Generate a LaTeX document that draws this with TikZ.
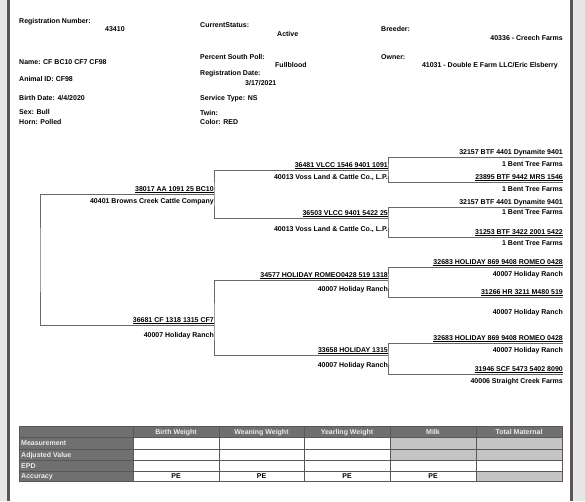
\documentclass[tikz,border=0pt]{standalone}
\usepackage{fontspec}
\setmainfont{Liberation Sans}
\usetikzlibrary{positioning}

\definecolor{pagegray}{RGB}{232,231,231}
\definecolor{rulegray}{RGB}{92,86,86}
\definecolor{linegray}{RGB}{105,105,105}
\definecolor{headgray}{RGB}{112,112,112}
\definecolor{cellgray}{RGB}{196,196,196}

\begin{document}
\begin{tikzpicture}[
    x=1pt, y=-1pt,
    txt/.style={font=\fontsize{7}{8}\selectfont\bfseries, inner sep=0pt, text height=5.2pt, text depth=0pt},
    field/.style={txt, anchor=west},
    farm/.style={txt, anchor=east},
    regname/.style={txt, anchor=south east, text depth=2.2pt, inner ysep=0.4pt},
    tree/.style={draw=linegray, line width=0.8pt},
    grid/.style={draw=rulegray, line width=1pt},
    headtxt/.style={txt, text=white!92!black},
]
    \useasboundingbox (0,0) rectangle (585,501);

    % Page with grey margins
    \fill[pagegray] (0,0) rectangle (585,501);
    \fill[white] (10,0) rectangle (570,501);
    \fill[rulegray] (7,0) rectangle (10,501);
    \fill[rulegray] (570,0) rectangle (573,501);

    % Header fields, left column
    \node[field] (regno) at (19,21) {Registration Number:};
    \node[field] (regnoval) at (105,29) {43410};
    \node[field] (name) at (19,62) {Name: CF BC10 CF7 CF98};
    \node[field] (animalid) at (19,79) {Animal ID: CF98};
    \node[field] (birth) at (19,98) {Birth Date: 4/4/2020};
    \node[field] (sex) at (19,112) {Sex: Bull};
    \node[field] (horn) at (19,122) {Horn: Polled};

    % Header fields, middle column
    \node[field] (status) at (200,25) {CurrentStatus:};
    \node[field] (statusval) at (277,34) {Active};
    \node[field] (poll) at (200,57) {Percent South Poll:};
    \node[field] (pollval) at (275,65) {Fullblood};
    \node[field] (regdate) at (200,73) {Registration Date:};
    \node[field] (regdateval) at (245,83) {3/17/2021};
    \node[field] (service) at (200,98) {Service Type: NS};
    \node[field] (twin) at (200,113) {Twin:};
    \node[field] (color) at (200,122) {Color: RED};

    % Header fields, right column
    \node[field] (breeder) at (381,29) {Breeder:};
    \node[farm] (breederval) at (563,38) {40336 - Creech Farms};
    \node[field] (owner) at (381,57) {Owner:};
    \node[farm] (ownerval) at (558,65) {41031 - Double E Farm LLC/Eric Elsberry};

    % Pedigree, parents
    \node[regname] (s) at (214,194) {\underline{38017 AA 1091 25 BC10}};
    \node[farm] (sb) at (214,201) {40401 Browns Creek Cattle Company};
    \node[regname] (d) at (214,325) {\underline{36681 CF 1318 1315 CF7}};
    \node[farm] (db) at (214,335) {40007 Holiday Ranch};

    % Pedigree, grandparents
    \node[regname] (ss) at (388,170) {\underline{36481 VLCC 1546 9401 1091}};
    \node[farm] (ssb) at (388,177) {40013 Voss Land \& Cattle Co., L.P.};
    \node[regname] (sd) at (388,218) {\underline{36503 VLCC 9401 5422 25}};
    \node[farm] (sdb) at (388,229) {40013 Voss Land \& Cattle Co., L.P.};
    \node[regname] (ds) at (388,280) {\underline{34577 HOLIDAY ROMEO0428 519 1318}};
    \node[farm] (dsb) at (388,289) {40007 Holiday Ranch};
    \node[regname] (dd) at (388,355) {\underline{33658 HOLIDAY 1315}};
    \node[farm] (ddb) at (388,365) {40007 Holiday Ranch};

    % Pedigree, great-grandparents
    \node[regname] (sss) at (563,157) {\underline{32157 BTF 4401 Dynamite 9401}};
    \node[farm] (sssb) at (563,164) {1 Bent Tree Farms};
    \node[regname] (ssd) at (563,182) {\underline{23895 BTF 9442 MRS 1546}};
    \node[farm] (ssdb) at (563,189) {1 Bent Tree Farms};
    \node[regname] (sds) at (563,207) {\underline{32157 BTF 4401 Dynamite 9401}};
    \node[farm] (sdsb) at (563,212) {1 Bent Tree Farms};
    \node[regname] (sdd) at (563,237) {\underline{31253 BTF 3422 2001 5422}};
    \node[farm] (sddb) at (563,243) {1 Bent Tree Farms};
    \node[regname] (dss) at (563,267) {\underline{32683 HOLIDAY 869 9408 ROMEO 0428}};
    \node[farm] (dssb) at (563,274) {40007 Holiday Ranch};
    \node[regname] (dsd) at (563,297) {\underline{31266 HR 3211 M480 519}};
    \node[farm] (dsdb) at (563,312) {40007 Holiday Ranch};
    \node[regname] (dds) at (563,343) {\underline{32683 HOLIDAY 869 9408 ROMEO 0428}};
    \node[farm] (ddsb) at (563,350) {40007 Holiday Ranch};
    \node[regname] (ddd) at (563,374) {\underline{31946 SCF 5473 5402 8090}};
    \node[farm] (dddb) at (563,381) {40006 Straight Creek Farms};

    % Brackets
    \coordinate (root) at (40,260);
    \draw[tree] (s.south east) -| (root) |- (d.south east);
    \draw[tree] (ss.south east) -| (s.south east) |- (sd.south east);
    \draw[tree] (ds.south east) -| (d.south east) |- (dd.south east);
    \draw[tree] (sss.south east) -| (ss.south east) |- (ssd.south east);
    \draw[tree] (sds.south east) -| (sd.south east) |- (sdd.south east);
    \draw[tree] (dss.south east) -| (ds.south east) |- (dsd.south east);
    \draw[tree] (dds.south east) -| (dd.south east) |- (ddd.south east);

    % EPD table
    \fill[headgray] (19,426) rectangle (562,437);
    \fill[headgray] (19,426) rectangle (133,481);
    \fill[cellgray] (390,437) rectangle (562,460);
    \fill[cellgray] (476,471) rectangle (562,481);
    \foreach \y in {437,449,460,471}
        \draw[grid] (19,\y) -- (562,\y);
    \foreach \x in {133,219,304,390,476}
        \draw[grid] (\x,426) -- (\x,481);
    \draw[grid] (19,426) rectangle (562,481);

    \foreach \x/\t [count=\i] in {176/Birth Weight, 261.5/Weaning Weight, 347/Yearling Weight, 433/Milk, 519/Total Maternal}
        \node[headtxt] (col\i) at (\x,431.5) {\t};
    \foreach \y/\t [count=\i] in {443/Measurement, 454.5/Adjusted Value, 465.5/EPD, 476/Accuracy}
        \node[headtxt, anchor=west] (row\i) at (21,\y) {\t};
    \foreach \x [count=\i] in {176,261.5,347,433}
        \node[txt] (acc\i) at (\x,476) {PE};
\end{tikzpicture}
\end{document}
